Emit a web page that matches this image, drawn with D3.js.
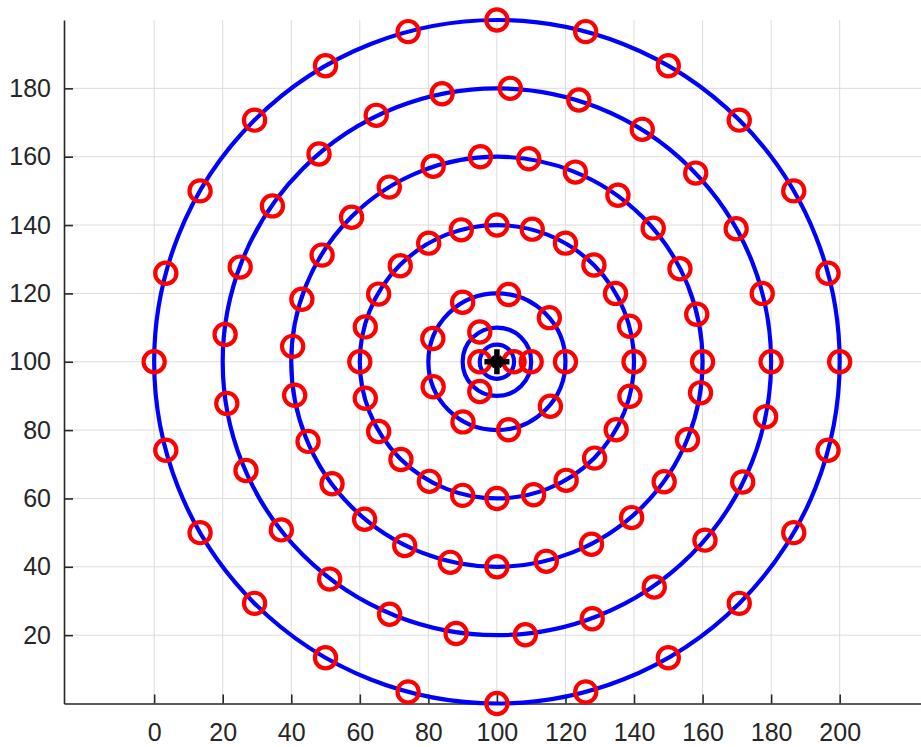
<!DOCTYPE html>
<html>
<head>
<meta charset="utf-8">
<script src="https://cdn.jsdelivr.net/npm/d3@7"></script>
<style>
    body { margin: 0; background: #fff; }
    .axis text { font-family: "Liberation Sans", Arial, sans-serif; font-size: 25px; fill: #262626; }
    .axis path, .axis line { stroke: #262626; stroke-width: 1.6; }
    .grid { stroke: #dcdcdc; stroke-width: 1; }
</style>
</head>
<body>
<script>

    var xTicks = [0, 20, 40, 60, 80, 100, 120, 140, 160, 180, 200];
    var yTicks = [20, 40, 60, 80, 100, 120, 140, 160, 180];

    var center = [100, 100];
    var radii = [100, 80, 60, 40, 20, 10, 5];

    // red markers
    var ring100 = [[200, 100], [196.6, 125.9], [186.6, 150], [170.7, 170.7], [150, 186.6], [125.9, 196.6],
        [100, 200], [74.1, 196.6], [50, 186.6], [29.3, 170.7], [13.4, 150], [3.4, 125.9],
        [0, 100], [3.4, 74.1], [13.4, 50], [29.3, 29.3], [50, 13.4], [74.1, 3.4],
        [100, 0], [125.9, 3.4], [150, 13.4], [170.7, 29.3], [186.6, 50], [196.6, 74.1]];
    var ring80 = [[180, 100], [177.4, 120], [169.8, 138.9], [158, 155.2], [142.4, 168], [123.9, 176.6],
        [103.9, 180], [84, 178.4], [64.8, 172.1], [48.1, 160.8], [34.5, 145.6], [25.1, 127.7],
        [20.7, 108], [21.2, 87.8], [26.8, 68.2], [37.1, 50.8], [51.2, 36.4], [68.7, 26.1],
        [88.1, 20.5], [108.3, 20.1], [127.8, 24.8], [145.9, 34.1], [160.7, 47.8], [171.7, 64.8], [178.4, 83.9]];
    var ring60 = [[160, 100], [158.3, 113.9], [153.4, 127.2], [145.6, 139.1], [135.3, 148.7], [122.9, 155.5],
        [109.3, 159.4], [95.2, 160], [81.4, 157.2], [68.6, 151.1], [57.6, 142.3], [49, 131.2],
        [43.1, 118.3], [40.4, 104.5], [41, 90.2], [44.9, 76.7], [51.9, 64.3], [61.4, 53.9],
        [73.1, 46.2], [86.4, 41.3], [100, 40], [114.4, 41.6], [127.6, 46.6], [139.3, 54.4],
        [148.8, 64.9], [155.6, 77.2], [159.4, 90.9]];
    var ring40 = [[140, 100], [138.7, 110.4], [134.6, 120], [128.3, 128.3], [120, 134.7], [110.3, 138.8],
        [100, 140], [89.6, 138.6], [80.1, 134.7], [71.8, 128.1], [65.5, 119.8], [61.6, 110.2],
        [60, 100], [61.6, 89.3], [65.5, 79.6], [72, 71.4], [80.3, 65], [90, 60.9],
        [100, 60], [110.7, 61.1], [120.2, 65.3], [128.5, 71.8], [134.8, 80.1], [138.8, 89.9]];
    var ring20 = [[120, 100], [115.3, 112.9], [103.4, 119.7], [90, 117.4], [81.3, 106.8],
        [81.4, 92.7], [90.1, 82.4], [103.4, 80.1], [115.6, 87]];
    var ring10 = [[110, 100], [95, 108.7], [95, 91.3]];
    var ring5 = [[105, 100], [95, 100]];

    var markers = [].concat(ring100, ring80, ring60, ring40, ring20, ring10, ring5);

    var canvas = d3.select('body')
        .append('svg')
        .attr('width', 921)
        .attr('height', 747)

    var xScale = d3.scaleLinear()
        .domain([-26.3, 224.6])
        .range([64, 924])

    var yScale = d3.scaleLinear()
        .domain([0, 200])
        .range([703.5, 20])

    // grid
    canvas.append('g')
        .selectAll('line')
        .data(xTicks)
        .enter()
        .append('line')
        .attr('class', 'grid')
        .attr('x1', function (d) { return xScale(d); })
        .attr('x2', function (d) { return xScale(d); })
        .attr('y1', yScale(0))
        .attr('y2', yScale(200))

    canvas.append('g')
        .selectAll('line')
        .data(yTicks)
        .enter()
        .append('line')
        .attr('class', 'grid')
        .attr('x1', xScale.range()[0])
        .attr('x2', xScale.range()[1])
        .attr('y1', function (d) { return yScale(d); })
        .attr('y2', function (d) { return yScale(d); })

    // axis
    var axisB = d3.axisBottom()
        .scale(xScale)
        .tickValues(xTicks)
        .tickSizeInner(-9)
        .tickSizeOuter(0)
        .tickPadding(20)

    var axisL = d3.axisLeft()
        .scale(yScale)
        .tickValues(yTicks)
        .tickSizeInner(-9)
        .tickSizeOuter(0)
        .tickPadding(13)

    canvas.append('g')
        .attr('class', 'axis')
        .attr('transform', 'translate(0,' + yScale(0) + ')')
        .call(axisB)

    canvas.append('g')
        .attr('class', 'axis')
        .attr('transform', 'translate(' + xScale.range()[0] + ',0)')
        .call(axisL)

    canvas.selectAll('.axis text').attr('font-family', null).attr('font-size', null)

    // blue rings
    canvas.append('g')
        .selectAll('ellipse')
        .data(radii)
        .enter()
        .append('ellipse')
        .attr('cx', xScale(center[0]))
        .attr('cy', yScale(center[1]))
        .attr('rx', function (d) { return xScale(center[0] + d) - xScale(center[0]); })
        .attr('ry', function (d) { return yScale(center[1]) - yScale(center[1] + d); })
        .attr('fill', 'none')
        .attr('stroke', '#0000ff')
        .attr('stroke-width', 4.2)

    // red markers
    canvas.append('g')
        .selectAll('circle')
        .data(markers)
        .enter()
        .append('circle')
        .attr('cx', function (d) { return xScale(d[0]); })
        .attr('cy', function (d) { return yScale(d[1]); })
        .attr('r', 10.6)
        .attr('fill', 'none')
        .attr('stroke', '#ff0000')
        .attr('stroke-width', 4.2)

    // black star at centre
    var cx = xScale(center[0]);
    var cy = yScale(center[1]);
    var star = canvas.append('g')
        .attr('stroke', '#000')
        .attr('stroke-linecap', 'butt')

    star.append('line').attr('x1', cx - 12.5).attr('x2', cx + 12.5).attr('y1', cy).attr('y2', cy).attr('stroke-width', 5.5)
    star.append('line').attr('x1', cx).attr('x2', cx).attr('y1', cy - 12.5).attr('y2', cy + 12.5).attr('stroke-width', 5.5)
    star.append('line').attr('x1', cx - 5).attr('x2', cx + 5).attr('y1', cy - 5).attr('y2', cy + 5).attr('stroke-width', 4)
    star.append('line').attr('x1', cx - 5).attr('x2', cx + 5).attr('y1', cy + 5).attr('y2', cy - 5).attr('stroke-width', 4)

</script>
</body>
</html>
